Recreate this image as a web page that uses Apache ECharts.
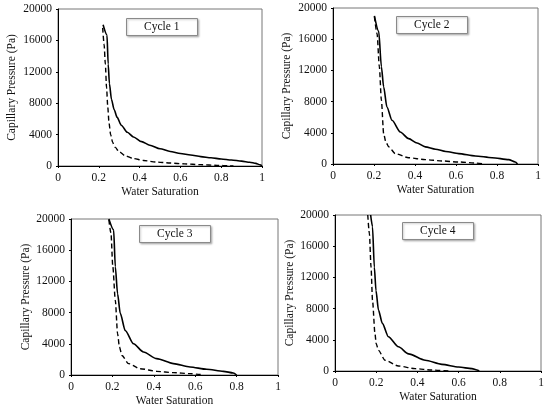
<!DOCTYPE html>
<html>
<head>
<meta charset="utf-8">
<script src="https://cdn.jsdelivr.net/npm/echarts@6/dist/echarts.min.js"></script>
<style>
  html, body { margin: 0; padding: 0; background: #fff; }
  #main { width: 550px; height: 408px; }
</style>
</head>
<body>
<div id="main"></div>
<script>
// 数据：每个循环的实线（solid）和虚线（dashed）曲线 [Sw, Pc]
var cycleNames = ['Cycle 1', 'Cycle 2', 'Cycle 3', 'Cycle 4'];
var xTicks = [0, 0.2, 0.4, 0.6, 0.8, 1];
var yTicks = [0, 4000, 8000, 12000, 16000, 20000];

var cycle1Solid = [[0.221,18000],[0.240,16700],[0.246,13000],[0.252,10500],[0.262,8500],[0.275,7200],[0.29,6200],[0.31,5200],[0.34,4300],[0.37,3700],[0.41,3100],[0.45,2650],[0.5,2200],[0.55,1850],[0.6,1600],[0.65,1400],[0.7,1200],[0.75,1050],[0.8,900],[0.85,770],[0.9,620],[0.94,480],[0.97,330],[0.99,150],[1.0,0]];
var cycle1Dashed = [[0.219,17600],[0.226,15500],[0.232,13000],[0.238,10000],[0.244,7500],[0.25,5500],[0.258,4000],[0.268,3000],[0.28,2400],[0.3,1800],[0.33,1300],[0.37,950],[0.42,700],[0.48,500],[0.55,380],[0.62,270],[0.7,170],[0.78,80],[0.84,20],[0.86,0]];

var cycle2Solid = [[0.202,19000],[0.223,17000],[0.236,12500],[0.247,9900],[0.263,7300],[0.288,5600],[0.328,4100],[0.369,3250],[0.41,2700],[0.45,2200],[0.5,1900],[0.55,1600],[0.613,1330],[0.694,1030],[0.776,810],[0.857,560],[0.889,260],[0.9,0]];
var cycle2Dashed = [[0.202,18900],[0.215,16700],[0.226,12500],[0.236,8200],[0.247,3900],[0.258,2800],[0.272,2200],[0.304,1330],[0.369,800],[0.45,560],[0.532,390],[0.613,260],[0.694,130],[0.735,0]];

var cycle3Solid = [[0.183,20000],[0.206,18600],[0.214,13900],[0.225,10400],[0.238,7900],[0.262,5700],[0.302,4000],[0.35,2950],[0.414,2100],[0.495,1460],[0.575,1030],[0.655,730],[0.736,470],[0.784,260],[0.8,0]];
var cycle3Dashed = [[0.183,19900],[0.193,18200],[0.202,13900],[0.214,9600],[0.225,5300],[0.234,3600],[0.246,2500],[0.278,1460],[0.334,810],[0.414,470],[0.495,300],[0.575,170],[0.623,80],[0.64,0]];

var cycle4Solid = [[0.173,20000],[0.182,18500],[0.191,13300],[0.199,10300],[0.211,7800],[0.23,6100],[0.259,4400],[0.308,3100],[0.357,2200],[0.438,1370],[0.519,850],[0.6,510],[0.665,300],[0.689,130],[0.7,0]];
var cycle4Dashed = [[0.159,20000],[0.167,17600],[0.175,13300],[0.182,9100],[0.194,4800],[0.2,3500],[0.211,2650],[0.243,1370],[0.308,640],[0.389,300],[0.47,130],[0.551,0]];

var solidData = [cycle1Solid, cycle2Solid, cycle3Solid, cycle4Solid];
var dashedData = [cycle1Dashed, cycle2Dashed, cycle3Dashed, cycle4Dashed];

var myChart = echarts.init(document.getElementById('main'));
var fontFamily = '"Liberation Serif", "Times New Roman", serif';

// 每个子图的位置
var grids = [
  { left: 58, top: 9, width: 204, height: 157 },
  { left: 333, top: 8, width: 205, height: 156 },
  { left: 71, top: 219, width: 207, height: 156 },
  { left: 335, top: 215, width: 206, height: 156 }
];
var boxes = [
  { left: 126, top: 18 },
  { left: 396, top: 16 },
  { left: 139, top: 225 },
  { left: 402, top: 222 }
];
var yNameGap = [40, 40, 37, 39];

var grid = [], xAxis = [], yAxis = [], series = [], title = [];
for (var i = 0; i < 4; i++) {
  grid.push({
    left: grids[i].left, top: grids[i].top,
    width: grids[i].width, height: grids[i].height,
    show: true, borderColor: '#777', borderWidth: 1, backgroundColor: 'transparent'
  });
  xAxis.push({
    type: 'value', gridIndex: i,
    min: xTicks[0], max: xTicks[xTicks.length - 1], interval: 0.2,
    name: 'Water Saturation', nameLocation: 'middle', nameGap: 20,
    nameTextStyle: { fontFamily: fontFamily, fontSize: 11.5, color: '#111' },
    axisLine: { show: true, lineStyle: { color: '#000', width: 1 } },
    axisTick: { show: true, length: 2, lineStyle: { color: '#000' } },
    axisLabel: { fontFamily: fontFamily, fontSize: 11.5, color: '#111', margin: 6,
      formatter: function (v) { return String(v); } },
    splitLine: { show: false }
  });
  yAxis.push({
    type: 'value', gridIndex: i,
    min: yTicks[0], max: yTicks[yTicks.length - 1], interval: 4000,
    name: 'Capillary Pressure (Pa)', nameLocation: 'middle', nameGap: yNameGap[i],
    nameTextStyle: { fontFamily: fontFamily, fontSize: 11.5, color: '#111' },
    axisLine: { show: true, lineStyle: { color: '#000', width: 1 } },
    axisTick: { show: true, length: 2, lineStyle: { color: '#000' } },
    axisLabel: { fontFamily: fontFamily, fontSize: 11.5, color: '#111', margin: 6,
      formatter: function (v) { return String(v); } },
    splitLine: { show: false }
  });
  series.push({
    name: cycleNames[i] + ' solid', type: 'line',
    xAxisIndex: i, yAxisIndex: i,
    data: solidData[i], showSymbol: false, symbol: 'none',
    smooth: 0.25, smoothMonotone: 'x',
    lineStyle: { color: '#000', width: 1.6, type: 'solid' }
  });
  series.push({
    name: cycleNames[i] + ' dashed', type: 'line',
    xAxisIndex: i, yAxisIndex: i,
    data: dashedData[i], showSymbol: false, symbol: 'none',
    smooth: 0.25, smoothMonotone: 'x',
    lineStyle: { color: '#000', width: 1.4, type: [5, 3] }
  });
  title.push({
    text: cycleNames[i],
    left: boxes[i].left, top: boxes[i].top,
    padding: [3, 18],
    borderColor: '#8a8a8a', borderWidth: 1,
    backgroundColor: '#fff',
    shadowColor: 'rgba(0,0,0,0.25)', shadowBlur: 2, shadowOffsetX: 1, shadowOffsetY: 1,
    textStyle: { fontFamily: fontFamily, fontSize: 11.5, fontWeight: 'normal', color: '#111' }
  });
}

var option = {
  animation: false,
  backgroundColor: '#fff',
  title: title,
  grid: grid,
  xAxis: xAxis,
  yAxis: yAxis,
  series: series
};
myChart.setOption(option);
</script>
</body>
</html>
